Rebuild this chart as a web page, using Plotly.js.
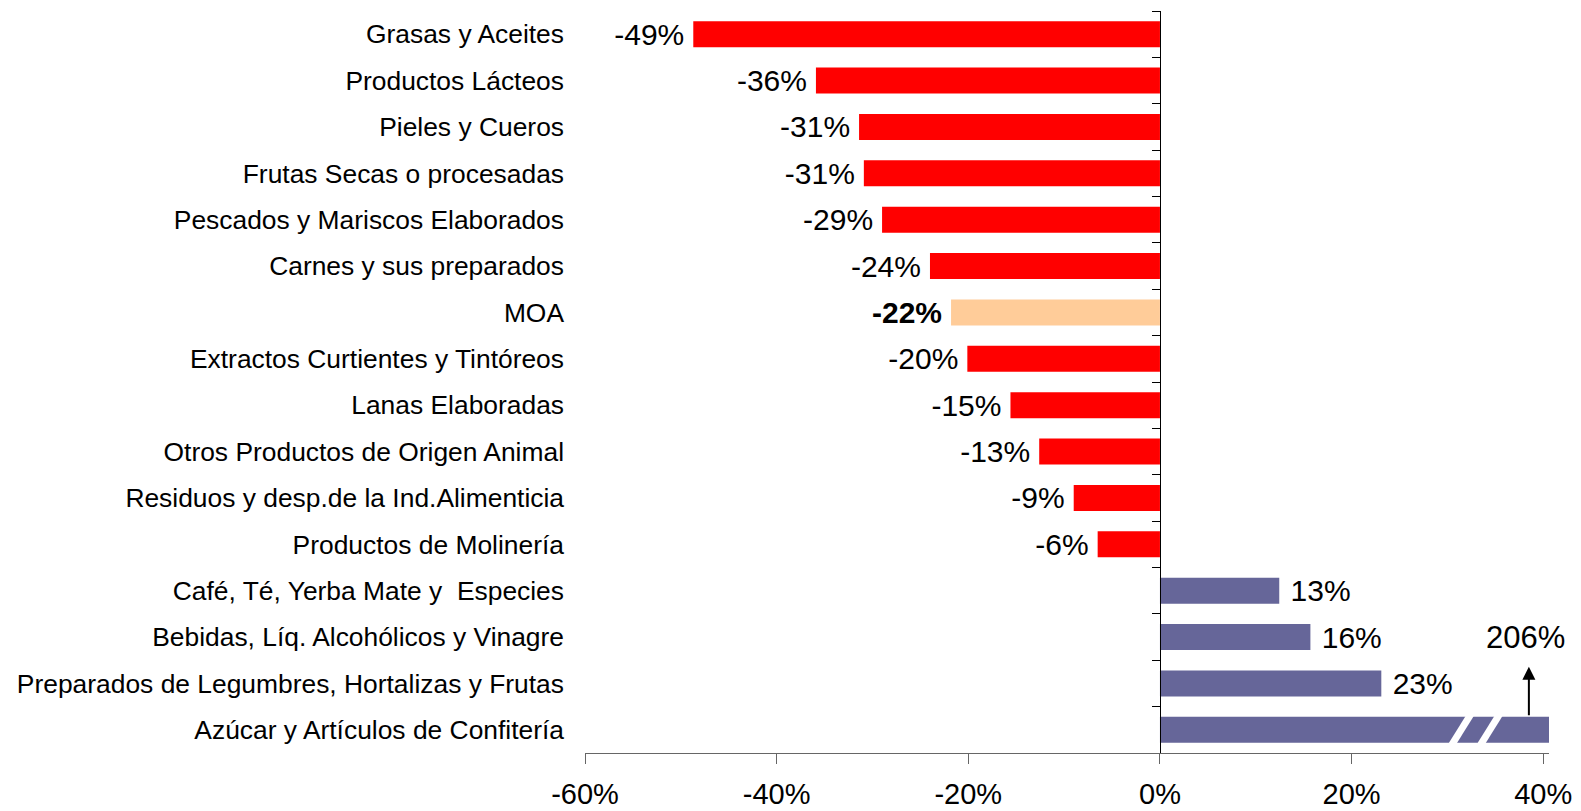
<!DOCTYPE html>
<html>
<head>
<meta charset="utf-8">
<script src="https://cdn.plot.ly/plotly-3.0.1.min.js"></script>
<style>html,body{margin:0;padding:0;background:#fff;}#chart{width:1581px;height:811px;}</style>
</head>
<body>
<div id="chart"></div>
<script>
// ---- data ----
const categories = [
  "Grasas y Aceites",
  "Productos Lácteos",
  "Pieles y Cueros",
  "Frutas Secas o procesadas",
  "Pescados y Mariscos Elaborados",
  "Carnes y sus preparados",
  "MOA",
  "Extractos Curtientes y Tintóreos",
  "Lanas Elaboradas",
  "Otros Productos de Origen Animal",
  "Residuos y desp.de la Ind.Alimenticia",
  "Productos de Molinería",
  "Café, Té, Yerba Mate y  Especies",
  "Bebidas, Líq. Alcohólicos y Vinagre",
  "Preparados de Legumbres, Hortalizas y Frutas",
  "Azúcar y Artículos de Confitería"
];
const values = [-48.7, -35.9, -31.4, -30.9, -29.0, -24.0, -21.8, -20.1, -15.6, -12.6, -9.0, -6.5, 12.45, 15.7, 23.1, 206];
const valueLabels = ["-49%", "-36%", "-31%", "-31%", "-29%", "-24%", "-22%", "-20%", "-15%", "-13%", "-9%", "-6%", "13%", "16%", "23%", "206%"];
const xTickValues = [-60, -40, -20, 0, 20, 40];
const totalCategory = "MOA";

// ---- style ----
const FONT = "'Liberation Sans', Arial, Helvetica, sans-serif";
const X_MIN = -60, X_MAX = 40.6;        // axis range; bars beyond X_MAX are broken
const COLOR_NEG = "#FF0000", COLOR_POS = "#666699", COLOR_TOTAL = "#FFCC99";
const BREAK_AT = [30.1, 33.1];           // where the broken bar gets its white cuts

const plotted = values.map(v => Math.min(v, X_MAX));
const colors = categories.map((c, i) => c === totalCategory ? COLOR_TOTAL : (values[i] < 0 ? COLOR_NEG : COLOR_POS));
const texts = valueLabels.map((t, i) => {
  if (values[i] > X_MAX) return "";
  const s = categories[i] === totalCategory ? "<b>" + t + "</b>" : t;
  return values[i] < 0 ? s + "\u2009" : "\u00a0" + s;
});

const bar = {
  type: "bar", orientation: "h",
  x: plotted, y: categories,
  marker: {color: colors, line: {width: 0}},
  text: texts, textposition: "outside", constraintext: "none", cliponaxis: false,
  outsidetextfont: {family: FONT, size: 30, color: "#000"},
  hoverinfo: "skip", showlegend: false
};
const axisHelper = {
  type: "scatter", mode: "markers", x: categories.map(() => 0), y: categories,
  yaxis: "y2", marker: {opacity: 0}, hoverinfo: "skip", showlegend: false
};

const shapes = [];
const annotations = [];
values.forEach((v, i) => {
  if (v > X_MAX) {
    BREAK_AT.forEach(b => {
      shapes.push({
        type: "path", xref: "x", yref: "y", layer: "above",
        path: `M ${b} ${i + 0.3} L ${b + 0.85} ${i + 0.3} L ${b + 2.65} ${i - 0.3} L ${b + 1.8} ${i - 0.3} Z`,
        fillcolor: "#fff", line: {width: 0}
      });
    });
    annotations.push({
      x: X_MAX - 2.1, y: i - 1.36, xref: "x", yref: "y",
      ax: X_MAX - 2.1, ay: i - 0.28, axref: "x", ayref: "y",
      showarrow: true, arrowhead: 2, arrowsize: 1.3, arrowwidth: 2, arrowcolor: "#000", text: ""
    });
    annotations.push({
      x: X_MAX - 2.5, y: i - 2, xref: "x", yref: "y", showarrow: false,
      text: valueLabels[i], font: {family: FONT, size: 31, color: "#000"}
    });
  }
});

const layout = {
  width: 1581, height: 811,
  margin: {l: 585, r: 32, t: 11, b: 58, pad: 0},
  paper_bgcolor: "#fff", plot_bgcolor: "#fff",
  bargap: 0.44,
  font: {family: FONT, color: "#000"},
  xaxis: {
    range: [X_MIN, X_MAX], tickvals: xTickValues, ticktext: xTickValues.map(v => v + "%"),
    showgrid: false, zeroline: false, showline: true, linecolor: "#666", linewidth: 1,
    ticks: "outside", ticklen: 10, tickcolor: "#666", tickwidth: 1,
    tickfont: {family: FONT, size: 29, color: "#000"}, ticklabelstandoff: 5, fixedrange: true
  },
  yaxis: {
    type: "category", categoryarray: categories, range: [categories.length - 0.5, -0.5],
    showgrid: false, zeroline: false, showline: false, ticks: "",
    tickfont: {family: FONT, size: 26.4, color: "#000"}, ticklabelstandoff: 20, fixedrange: true
  },
  yaxis2: {
    type: "category", categoryarray: categories, range: [categories.length - 0.5, -0.5],
    overlaying: "y", anchor: "free", position: (0 - X_MIN) / (X_MAX - X_MIN),
    showgrid: false, zeroline: false, showline: true, linecolor: "#000", linewidth: 1,
    ticks: "outside", tickson: "boundaries", ticklen: 8, tickcolor: "#000", tickwidth: 1,
    showticklabels: false, fixedrange: true
  },
  shapes: shapes,
  annotations: annotations
};

Plotly.newPlot("chart", [bar, axisHelper], layout, {displayModeBar: false, staticPlot: true});
</script>
</body>
</html>
